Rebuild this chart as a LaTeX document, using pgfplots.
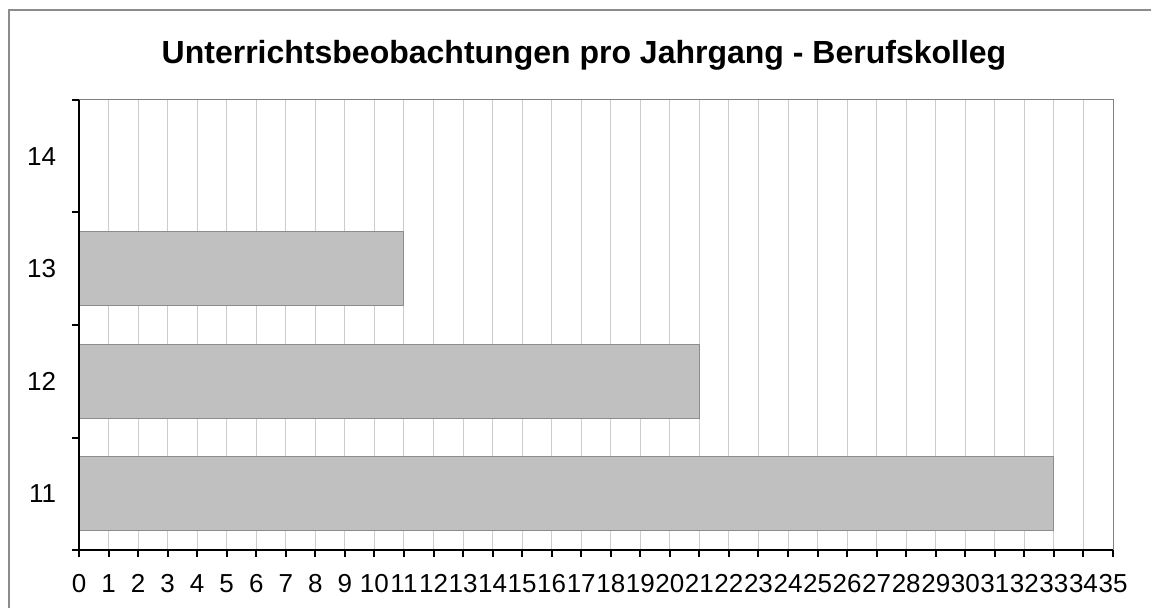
\documentclass[border=0pt]{standalone}
\usepackage{pgfplots}
\pgfplotsset{compat=1.18}
\usepackage{fontspec}
\setmainfont{Liberation Sans}
\definecolor{barfill}{HTML}{C0C0C0}
\definecolor{bardraw}{HTML}{8C8C8C}
\definecolor{gridc}{HTML}{CCCCCC}
\definecolor{framec}{HTML}{8C8C8C}
\begin{document}
\begin{tikzpicture}
\useasboundingbox (0pt,0pt) rectangle (863.25pt,455.25pt);
\draw[framec, line width=1.5pt] (6.75pt,-15pt) -- (6.75pt,447.75pt) -- (885pt,447.75pt);
\node[font=\fontsize{24}{28}\selectfont\bfseries] at (438pt,414pt) {Unterrichtsbeobachtungen pro Jahrgang - Berufskolleg};
\begin{axis}[
  at={(59.25pt,42.75pt)}, anchor=south west,
  scale only axis, width=775.5pt, height=337.5pt,
  xmin=0, xmax=35, ymin=0.5, ymax=4.5,
  xbar, bar width=0.66,
  axis x line*=bottom, axis y line*=left,
  axis line style={black, line width=1.5pt},
  tick align=outside,
  major tick length=0pt,
  minor tick length=5.25pt,
  tick style={black, line width=1.5pt},
  xtick={0,1,...,35},
  minor xtick={0,1,...,35},
  xmajorgrids,
  grid style={gridc, line width=0.75pt},
  ytick={1,2,3,4},
  yticklabels={11,12,13,14},
  minor ytick={0.5,1.5,2.5,3.5,4.5},
  /pgf/number format/assume math mode=true,
  tick label style={font=\fontsize{19.5}{22}\selectfont},
  x tick label style={inner sep=0pt, yshift=-18pt},
  y tick label style={inner sep=0pt, xshift=-17pt},
  clip=false,
]
\addplot[fill=barfill, draw=bardraw, line width=0.75pt] coordinates {(33,1) (21,2) (11,3) (0,4)};
\draw[gray, line width=0.75pt] (rel axis cs:0,1) -- (rel axis cs:1,1) -- (rel axis cs:1,0);
\draw[black, line width=1.5pt] (rel axis cs:0,1) -- (rel axis cs:0,0) -- (rel axis cs:1,0);
\end{axis}
\end{tikzpicture}
\end{document}
